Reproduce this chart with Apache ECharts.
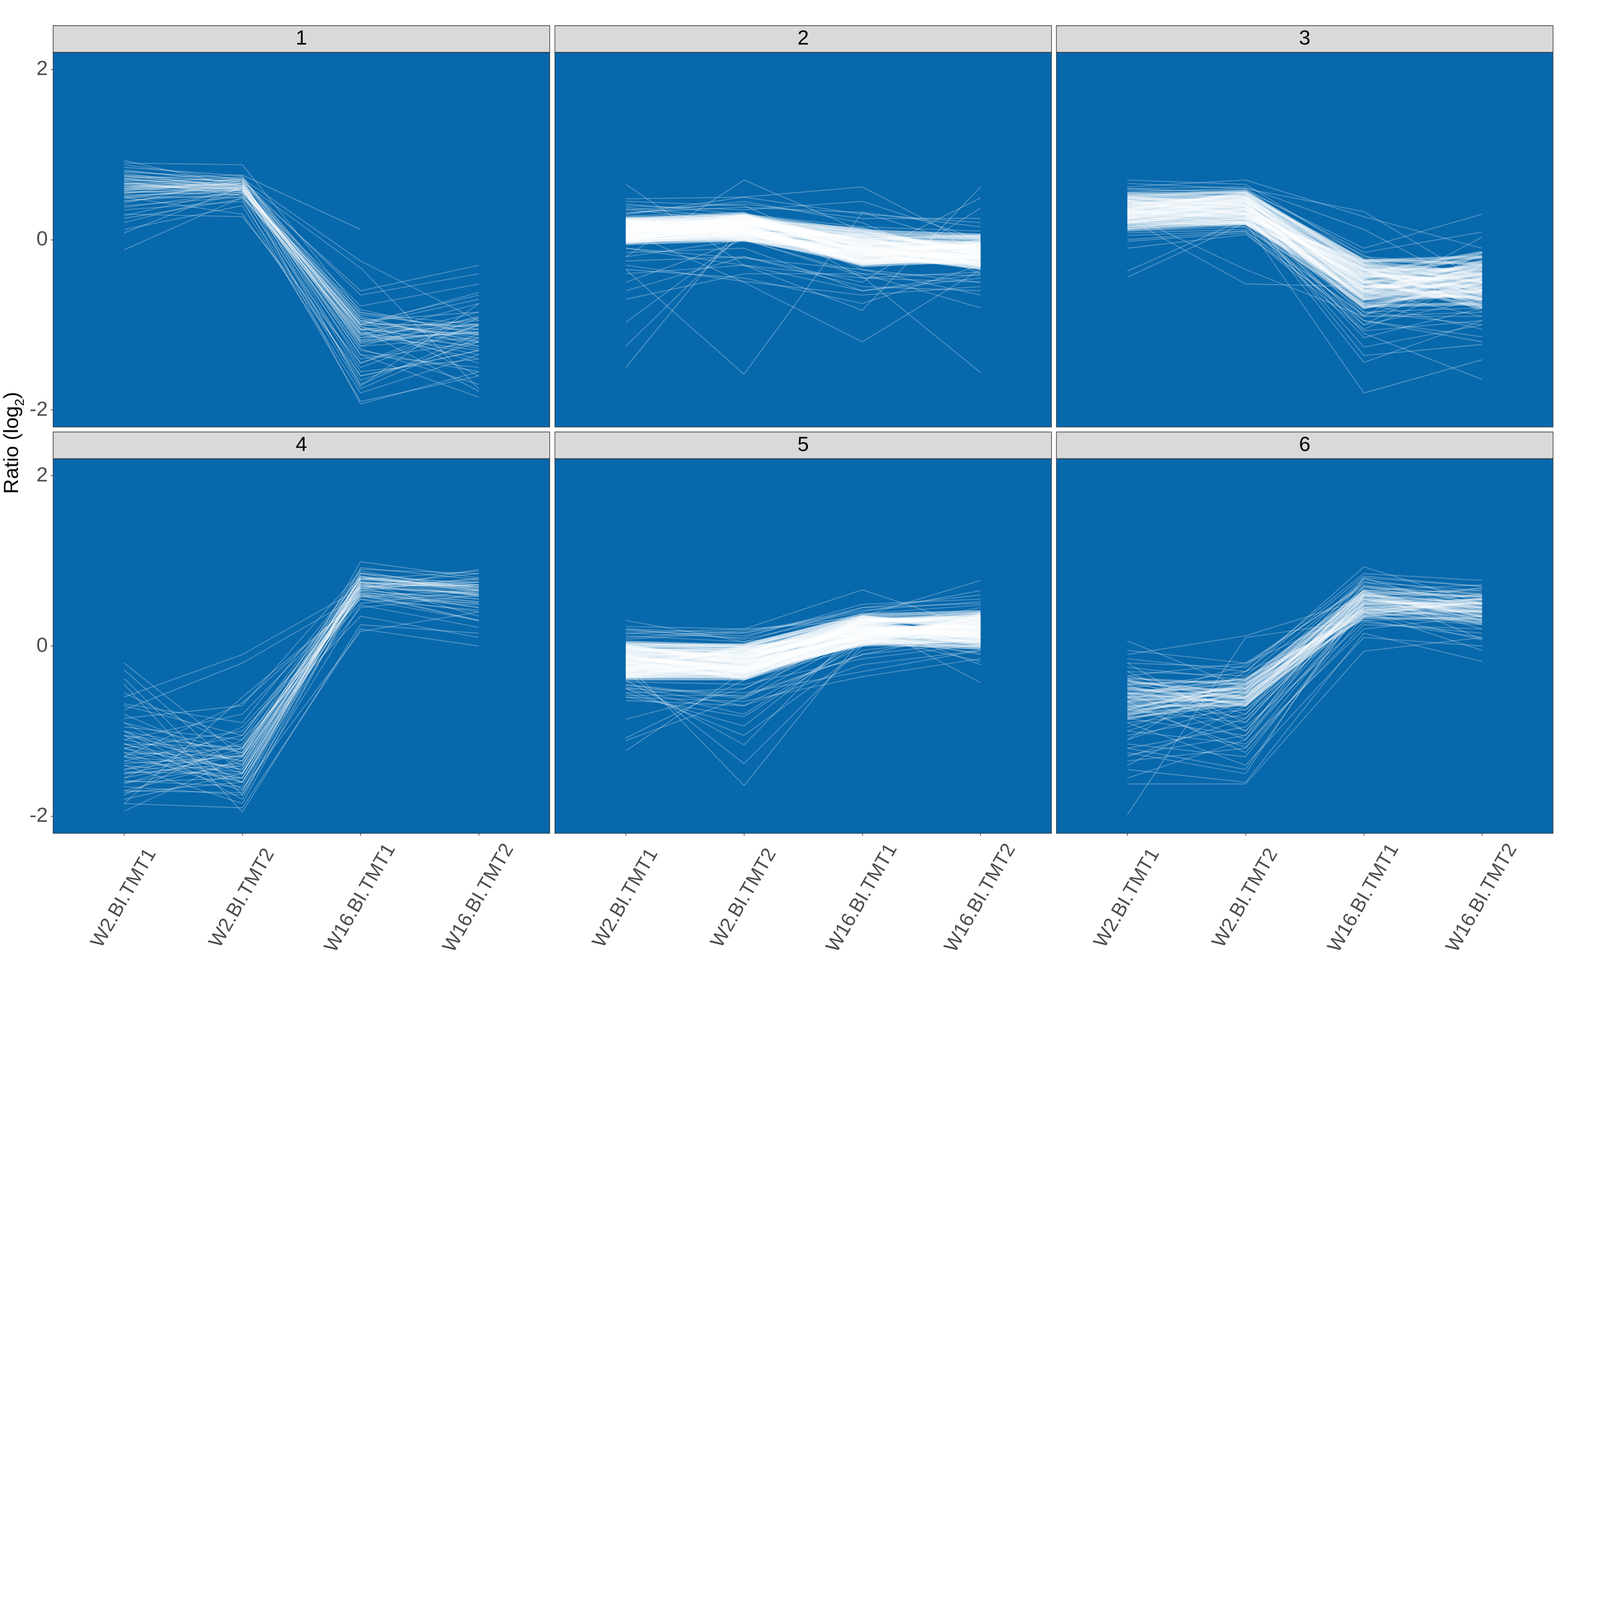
<!DOCTYPE html>
<html>
<head>
<meta charset="utf-8">
<script src="https://cdn.jsdelivr.net/npm/echarts@6/dist/echarts.min.js"></script>
<style>html,body{margin:0;padding:0;background:#fff;overflow:hidden;}</style>
</head>
<body>
<div id="chart"></div>
<script>
// ---------- DATA ----------
const categories = ['W2.BI.TMT1', 'W2.BI.TMT2', 'W16.BI.TMT1', 'W16.BI.TMT2'];
const categoryPositions = [1, 2, 3, 4];
const panelLabels = ['1', '2', '3', '4', '5', '6'];
const yTicks = [-2, 0, 2];

// cluster 1 profiles (log2 ratio at each of the 4 samples)
const cluster1 = [
[0.93,0.62,-1.05,-1.2],[0.88,0.7,-0.95,-0.85],[0.85,0.75,-1.1,-1.4],[0.82,0.66,-1.2,-0.98],
[0.8,0.72,-0.88,-1.05],[0.78,0.6,-1.3,-1.55],[0.76,0.68,-1.0,-0.62],[0.74,0.64,-1.15,-1.1],
[0.72,0.58,-0.9,-1.25],[0.7,0.7,-1.45,-1.0],[0.68,0.62,-1.08,-1.35],[0.66,0.55,-0.82,-1.12],
[0.65,0.74,-1.25,-0.9],[0.64,0.6,-1.0,-1.0],[0.62,0.66,-1.6,-1.3],[0.6,0.57,-1.12,-0.75],
[0.6,0.63,-0.95,-1.18],[0.58,0.68,-1.35,-1.5],[0.57,0.52,-1.05,-0.95],[0.55,0.6,-1.2,-1.08],
[0.54,0.72,-0.92,-1.6],[0.52,0.58,-1.4,-1.2],[0.5,0.62,-1.7,-1.1],[0.5,0.5,-1.02,-1.45],
[0.48,0.66,-1.18,-0.85],[0.46,0.54,-0.86,-1.0],[0.45,0.6,-1.28,-1.7],[0.43,0.7,-1.55,-1.4],
[0.4,0.5,-1.1,-1.25],[0.38,0.56,-1.0,-0.7],[0.35,0.45,-1.65,-1.2],[0.28,0.6,-1.22,-1.05],
[0.25,0.48,-1.9,-1.6],[0.2,0.55,-1.75,-1.15],[0.12,0.4,-1.8,-1.35],[0.08,0.62,-1.35,-1.85],
[-0.12,0.5,-1.5,-1.0],[0.72,0.76,0.12,null],[0.62,0.72,-0.25,-0.95],[0.75,0.68,-0.33,-1.75],
[0.58,0.66,-0.6,-0.3],[0.8,0.7,-0.65,-0.4],[0.55,0.62,-0.78,-0.52],[0.5,0.3,-1.6,-1.3],
[0.3,0.27,-1.45,-0.92],[0.9,0.88,-0.85,-1.1],[0.66,0.64,-1.93,-1.55],[0.6,0.7,-1.72,-0.75],
[0.72,0.6,-1.05,-1.78],[0.56,0.58,-0.98,-0.65],[0.68,0.52,-1.12,-1.3],[0.62,0.64,-1.05,-1.05],
[0.66,0.6,-1.1,-1.0],[0.58,0.62,-1.0,-1.12],[0.7,0.66,-1.18,-1.08],[0.64,0.58,-0.96,-1.15],
[0.62,0.6,-0.98,-1.02],[0.7,0.64,-1.06,-1.1],[0.52,0.56,-1.15,-0.92],[0.75,0.62,-0.92,-1.2],
[0.6,0.66,-1.25,-1.15],[0.66,0.58,-1.02,-1.28]
];

// cluster 2 profiles: dense core and sparser spread
const cluster2Core = [
[0.25,0.28,0.1,0.05],[0.24,0.22,0.02,-0.05],[0.23,0.3,-0.05,0.0],[0.22,0.18,0.08,-0.12],
[0.21,0.26,-0.1,-0.08],[0.2,0.2,0.0,0.04],[0.19,0.24,-0.15,-0.2],[0.18,0.15,0.05,-0.1],
[0.17,0.28,-0.08,-0.15],[0.16,0.12,-0.2,-0.05],[0.15,0.22,0.12,-0.18],[0.14,0.18,-0.12,-0.25],
[0.13,0.25,-0.02,-0.1],[0.12,0.1,-0.18,-0.02],[0.11,0.2,-0.06,-0.22],[0.1,0.16,-0.25,-0.12],
[0.09,0.08,0.04,-0.3],[0.08,0.22,-0.14,-0.08],[0.07,0.12,-0.22,-0.16],[0.06,0.05,-0.1,-0.28],
[0.05,0.18,-0.28,-0.2],[0.04,0.1,-0.04,-0.14],[0.03,0.02,-0.16,-0.33],[0.02,0.14,-0.3,-0.24],
[0.01,0.06,-0.12,-0.06],[0.0,0.0,-0.24,-0.18],[-0.01,0.12,-0.08,-0.3],[-0.02,0.04,-0.2,-0.1],
[-0.03,0.08,-0.26,-0.26],[-0.04,0.0,-0.14,-0.2],[0.2,0.14,-0.18,-0.14],[0.15,0.05,-0.1,-0.24],
[0.1,0.26,0.06,0.02],[0.05,0.24,-0.02,-0.12],[0.18,0.08,-0.22,-0.28],[0.12,0.02,-0.28,-0.2],
[0.0,0.2,-0.06,-0.04],[0.08,0.28,-0.16,-0.32],[0.22,0.1,-0.26,-0.16],[0.02,0.16,0.0,-0.22]
];
const cluster2Spread = [
[0.65,-0.3,-0.6,-0.4],[-1.5,0.2,0.0,-0.1],[-1.25,0.1,-0.3,-0.2],[-0.97,0.05,-0.1,-0.35],
[-0.35,-1.58,0.32,-0.1],[-0.2,0.7,0.1,-0.2],[0.3,0.5,0.62,-0.1],[0.1,-0.5,-1.2,-0.35],
[0.05,0.0,-0.43,-1.56],[-0.1,-0.3,-0.83,0.62],[0.45,0.4,-0.2,0.49],[0.4,0.35,0.45,0.0],
[-0.6,-0.2,-0.5,0.37],[-0.7,-0.4,-0.4,-0.8],[0.48,0.5,0.3,0.2],[-0.3,-0.49,-0.65,-0.55],
[0.35,0.42,0.25,0.25],[-0.25,-0.2,-0.55,-0.6],[0.42,0.3,0.15,0.1],[-0.4,-0.3,-0.45,-0.5],
[0.3,0.45,0.2,-0.4],[-0.15,-0.1,-0.6,-0.45],[0.38,0.25,-0.35,-0.65],[-0.5,0.0,-0.25,-0.15],
[-0.35,-0.45,-0.75,-0.3],[0.32,0.38,0.32,0.15],[-0.2,0.0,-0.4,-0.42],[0.28,0.32,-0.45,-0.38],
[-0.1,-0.22,-0.35,-0.5],[0.36,0.2,0.1,-0.3]
];

// cluster 3 profiles
const cluster3Core = [
[0.54,0.55,-0.25,-0.2],[0.52,0.5,-0.35,-0.45],[0.5,0.57,-0.3,-0.6],[0.48,0.46,-0.45,-0.3],
[0.47,0.52,-0.5,-0.7],[0.45,0.48,-0.28,-0.5],[0.44,0.42,-0.6,-0.4],[0.42,0.5,-0.4,-0.15],
[0.41,0.45,-0.55,-0.55],[0.4,0.38,-0.7,-0.65],[0.38,0.44,-0.35,-0.35],[0.37,0.4,-0.48,-0.8],
[0.36,0.48,-0.62,-0.25],[0.35,0.36,-0.42,-0.48],[0.34,0.42,-0.75,-0.6],[0.33,0.32,-0.3,-0.42],
[0.32,0.4,-0.52,-0.72],[0.31,0.35,-0.65,-0.32],[0.3,0.3,-0.38,-0.55],[0.29,0.38,-0.8,-0.5],
[0.28,0.28,-0.46,-0.62],[0.27,0.34,-0.58,-0.38],[0.26,0.25,-0.34,-0.78],[0.25,0.32,-0.7,-0.45],
[0.24,0.22,-0.5,-0.3],[0.22,0.3,-0.42,-0.58],[0.21,0.2,-0.62,-0.68],[0.2,0.26,-0.26,-0.4],
[0.18,0.19,-0.55,-0.52],[0.16,0.24,-0.78,-0.75],[0.14,0.21,-0.44,-0.2],[0.12,0.19,-0.66,-0.46],
[0.4,0.52,-0.24,-0.28],[0.35,0.55,-0.32,-0.65],[0.3,0.48,-0.56,-0.35],[0.45,0.3,-0.68,-0.58],
[0.25,0.45,-0.4,-0.5],[0.5,0.4,-0.5,-0.42],[0.2,0.36,-0.36,-0.7],[0.33,0.26,-0.6,-0.62]
];
const cluster3Spread = [
[0.7,0.65,-0.2,-0.3],[0.66,0.6,0.33,-0.5],[0.62,0.7,0.27,-0.1],[0.6,0.62,0.12,-0.6],
[0.58,0.58,-0.1,0.3],[0.56,0.6,-0.15,0.09],[0.1,0.15,-0.9,-0.9],[0.05,0.1,-1.0,-0.7],
[-0.02,0.08,-1.07,-0.95],[-0.1,0.06,-0.95,-1.14],[-0.44,0.2,-0.8,-0.6],[-0.37,0.25,-0.85,-0.8],
[0.3,-0.35,-0.9,-0.85],[0.25,-0.52,-0.55,-0.7],[0.4,0.3,-1.26,-1.0],[0.35,0.35,-1.36,-1.23],
[0.2,0.3,-1.44,-0.95],[0.45,0.2,-1.8,-1.41],[0.3,0.4,-1.1,-1.64],[0.15,0.25,-0.95,-1.2],
[0.5,0.45,-0.85,-1.0],[0.08,0.12,-0.7,0.03],[0.55,0.5,-0.18,-0.85],[0.0,0.1,-0.88,-0.55],
[0.46,0.36,-1.0,-0.3],[0.22,0.15,-0.75,-1.05],[0.6,0.55,-0.6,-0.9],[0.12,0.3,-1.15,-0.8],
[0.38,0.45,-0.9,-0.15],[0.28,0.2,-1.05,-0.45]
];

// cluster 4 profiles
const cluster4 = [
[-0.2,-1.3,0.8,0.7],[-0.28,-1.5,0.72,0.55],[-0.38,-1.75,0.65,0.8],[-0.55,-1.2,0.9,0.85],
[-0.6,-0.1,0.68,0.45],[-0.68,-0.9,0.82,0.6],[-0.75,-0.2,0.6,0.5],[-0.8,-1.4,0.75,0.7],
[-0.85,-0.7,0.88,0.65],[-0.9,-1.6,0.58,0.4],[-0.95,-1.1,0.78,0.88],[-1.0,-1.25,0.7,0.62],
[-1.05,-1.8,0.85,0.72],[-1.1,-0.8,0.62,0.3],[-1.1,-1.35,0.72,0.75],[-1.15,-1.55,0.8,0.58],
[-1.2,-1.0,0.5,0.65],[-1.2,-1.45,0.67,0.9],[-1.25,-1.7,0.92,0.78],[-1.28,-1.2,0.6,0.5],
[-1.3,-1.6,0.75,0.35],[-1.35,-1.05,0.82,0.66],[-1.38,-1.3,0.45,0.6],[-1.4,-1.85,0.7,0.72],
[-1.45,-1.15,0.65,0.55],[-1.48,-1.5,0.99,0.8],[-1.5,-1.25,0.78,0.7],[-1.55,-0.95,0.55,0.42],
[-1.58,-1.65,0.85,0.62],[-1.6,-1.4,0.72,0.85],[-1.62,-1.2,0.6,0.3],[-1.65,-1.75,0.48,0.22],
[-1.7,-1.35,0.8,0.68],[-1.72,-1.6,0.68,0.75],[-1.75,-1.1,0.35,0.1],[-1.8,-1.5,0.75,0.6],
[-1.85,-1.9,0.2,0.0],[-1.94,-1.3,0.62,0.52],[-1.85,-0.6,0.55,0.3],[-0.45,-1.95,0.25,0.15],
[-1.0,-1.68,0.17,0.4],[-1.3,-0.67,0.58,0.48],[-1.15,-1.45,0.7,0.72],[-1.4,-1.55,0.76,0.65],
[-1.25,-1.3,0.8,0.66],[-1.05,-1.22,0.74,0.68],[-1.45,-1.28,0.7,0.6],[-1.05,-1.35,0.68,0.62],
[-1.2,-1.6,0.78,0.72],[-1.35,-1.48,0.62,0.58],[-1.5,-1.38,0.74,0.7],[-0.9,-1.25,0.8,0.75],
[-1.6,-1.55,0.66,0.52],[-1.15,-1.18,0.58,0.66],[-0.7,-1.05,0.72,0.6],[-1.7,-1.72,0.82,0.64],
[-1.3,-1.42,0.7,0.78],[-1.0,-1.5,0.64,0.45],[-1.55,-1.28,0.86,0.68]
];

// cluster 5 profiles
const cluster5Core = [
[0.04,0.0,0.36,0.4],[0.02,-0.02,0.3,0.32],[0.0,0.01,0.34,0.22],[-0.02,-0.05,0.25,0.36],
[-0.04,-0.08,0.32,0.28],[-0.06,-0.04,0.2,0.15],[-0.08,-0.1,0.28,0.38],[-0.1,-0.12,0.22,0.2],
[-0.12,-0.08,0.14,0.3],[-0.14,-0.16,0.3,0.1],[-0.16,-0.14,0.18,0.25],[-0.18,-0.2,0.1,0.18],
[-0.2,-0.18,0.24,0.05],[-0.22,-0.24,0.12,0.34],[-0.24,-0.22,0.06,0.12],[-0.26,-0.28,0.2,0.22],
[-0.28,-0.26,0.08,0.0],[-0.3,-0.32,0.16,0.26],[-0.32,-0.3,0.02,0.08],[-0.34,-0.36,0.1,0.16],
[-0.36,-0.34,0.04,-0.02],[-0.38,-0.38,0.14,0.2],[-0.1,-0.3,0.26,0.14],[-0.2,-0.06,0.08,0.3],
[-0.3,-0.15,0.22,0.1],[0.0,-0.2,0.12,0.24],[-0.25,-0.35,0.3,0.32],[-0.15,-0.25,0.04,0.06],
[-0.05,-0.12,0.18,0.12],[-0.35,-0.2,0.28,0.28],[-0.12,-0.32,0.16,0.04],[-0.28,-0.1,0.34,0.18],
[-0.22,-0.28,0.02,0.36],[-0.08,-0.18,0.1,0.22],[-0.18,-0.38,0.06,0.14],[-0.32,-0.24,0.26,0.08],
[-0.02,-0.14,0.22,0.02],[-0.26,-0.02,0.14,0.26],[-0.14,-0.26,0.32,0.34],[-0.36,-0.3,0.18,0.16]
];
const cluster5Spread = [
[0.3,0.05,0.45,0.5],[0.23,0.2,0.66,0.2],[0.2,0.15,0.4,0.65],[0.15,0.1,0.49,0.55],
[0.1,0.18,0.35,0.77],[-0.86,-0.5,0.1,0.1],[-1.08,-0.4,0.0,0.2],[-1.11,-0.6,-0.1,0.05],
[-1.23,-0.3,0.2,0.15],[-0.2,-1.64,0.1,0.3],[-0.3,-1.38,0.0,0.0],[-0.4,-1.16,0.25,0.2],
[-0.5,-1.05,-0.05,0.1],[-0.55,-0.94,0.15,-0.1],[-0.6,-0.83,0.05,0.25],[-0.64,-0.7,-0.22,-0.05],
[-0.6,-0.65,-0.36,-0.15],[-0.5,-0.55,-0.3,-0.05],[-0.45,-0.6,0.3,-0.43],[-0.55,-0.5,0.2,0.12],
[0.15,0.2,0.3,-0.22],[0.18,0.12,0.45,0.6],[-0.48,-0.7,0.0,0.3],[0.12,0.05,0.2,0.45],
[-0.42,-0.45,-0.15,0.02],[-0.5,-0.8,0.08,-0.08],[0.08,0.16,0.42,0.52],[-0.58,-0.58,-0.1,0.18],
[-0.46,-0.62,0.12,-0.18],[0.2,0.08,0.38,0.48]
];

// cluster 6 profiles
const cluster6Core = [
[-0.38,-0.45,0.6,0.5],[-0.42,-0.55,0.5,0.4],[-0.45,-0.4,0.65,0.58],[-0.5,-0.62,0.42,0.35],
[-0.52,-0.5,0.55,0.45],[-0.55,-0.68,0.38,0.52],[-0.58,-0.42,0.62,0.3],[-0.6,-0.58,0.48,0.55],
[-0.62,-0.65,0.35,0.42],[-0.65,-0.48,0.58,0.38],[-0.68,-0.6,0.45,0.28],[-0.7,-0.7,0.52,0.48],
[-0.72,-0.52,0.4,0.56],[-0.75,-0.64,0.6,0.44],[-0.78,-0.56,0.33,0.32],[-0.8,-0.66,0.5,0.5],
[-0.82,-0.46,0.44,0.4],[-0.86,-0.6,0.56,0.36],[-0.48,-0.7,0.46,0.46],[-0.56,-0.38,0.36,0.54],
[-0.66,-0.54,0.64,0.34],[-0.74,-0.44,0.42,0.5],[-0.4,-0.62,0.54,0.42],[-0.84,-0.68,0.62,0.58],
[-0.6,-0.5,0.4,0.27]
];
const cluster6Spread = [
[0.06,-0.5,0.8,0.7],[-0.05,-0.2,0.7,0.6],[-0.1,0.12,0.55,0.4],[-0.15,-0.3,0.93,0.5],
[-0.2,-0.25,0.85,0.77],[-0.25,-0.4,0.65,0.72],[-0.3,-0.35,0.75,0.65],[-0.3,-0.9,0.6,0.2],
[-0.35,-0.6,0.78,0.6],[-0.4,-0.8,0.7,0.45],[-0.45,-1.0,0.5,0.3],[-0.5,-0.3,0.3,0.1],
[-0.55,-1.1,0.68,0.62],[-0.6,-0.85,0.45,0.55],[-0.65,-0.22,0.72,0.5],[-0.7,-1.19,0.25,0.2],
[-0.75,-0.9,0.58,0.68],[-0.8,-0.4,0.4,0.07],[-0.85,-1.05,0.8,0.4],[-0.9,-0.75,0.35,0.45],
[-0.95,-0.5,0.62,0.65],[-1.0,-1.15,0.2,0.35],[-1.05,-0.8,0.55,0.25],[-1.1,-0.65,0.7,0.55],
[-1.15,-1.3,0.45,0.5],[-1.2,-0.95,0.28,0.15],[-1.25,-1.5,0.6,0.4],[-1.28,-1.05,0.4,-0.05],
[-1.35,-1.2,0.5,0.6],[-1.4,-0.7,0.66,0.45],[-1.45,-1.6,0.15,-0.18],[-1.55,-1.1,0.48,0.3],
[-1.62,-1.62,-0.06,0.1],[-1.98,0.1,0.3,0.35],[-0.2,-1.0,0.6,0.5],[-0.9,-1.4,0.1,0.0],
[-1.1,-0.3,0.82,0.7],[-0.55,-0.75,0.52,0.68],[-0.75,-0.45,0.38,0.48],[-1.3,-0.85,0.58,0.35],
[-0.35,-0.2,0.42,0.62],[-1.0,-0.55,0.75,0.5],[-0.65,-1.25,0.35,0.25],[-0.45,-0.6,0.65,0.08],
[-1.2,-1.45,0.52,0.55]
];

// ---------- LAYOUT / STYLE (designed for 7800x4800, scaled to fit the window) ----------
const DESIGN_W = 7800, DESIGN_H = 4800;
const vw = window.innerWidth || DESIGN_W, vh = window.innerHeight || DESIGN_H;
const s = Math.min(vw / DESIGN_W, vh / DESIGN_H);
const S = v => v * s;

const colLeft = [259, 2705, 5150];
const panelW = 2421;
const rowTop = [255, 2235];
const panelH = 1826;
const stripH = 130;
const FONT = '"Liberation Sans", Arial, Helvetica, sans-serif';

const panels = [
  {spread: cluster1, core: [], coreW: 0, coreA: 0},
  {spread: cluster2Spread, core: cluster2Core, coreW: 18, coreA: 0.5},
  {spread: cluster3Spread, core: cluster3Core, coreW: 15, coreA: 0.45},
  {spread: cluster4, core: [], coreW: 0, coreA: 0},
  {spread: cluster5Spread, core: cluster5Core, coreW: 18, coreA: 0.5},
  {spread: cluster6Spread, core: cluster6Core, coreW: 10, coreA: 0.35}
];

const grids = [], xAxes = [], yAxes = [], series = [], graphics = [];

panels.forEach((p, i) => {
  const row = Math.floor(i / 3), col = i % 3;
  grids.push({
    left: S(colLeft[col]), top: S(rowTop[row]), width: S(panelW), height: S(panelH),
    show: true, backgroundColor: '#0868AC', borderColor: '#333333', borderWidth: S(3),
    containLabel: false
  });
  xAxes.push({
    type: 'value', gridIndex: i, min: 0.4, max: 4.6, position: 'bottom',
    splitLine: {show: false}, axisLine: {show: false, onZero: false},
    axisTick: {show: row === 1, customValues: categoryPositions, length: S(12),
               lineStyle: {color: '#333333', width: S(3)}},
    axisLabel: {show: row === 1, customValues: categoryPositions,
                formatter: v => categories[Math.round(v) - 1] || '',
                rotate: 60, align: 'center', verticalAlign: 'middle', margin: S(316),
                fontSize: S(96), color: '#4D4D4D', fontFamily: FONT}
  });
  yAxes.push({
    type: 'value', gridIndex: i, min: -2.2, max: 2.2, position: 'left',
    splitLine: {show: false}, axisLine: {show: false, onZero: false},
    axisTick: {show: col === 0, customValues: yTicks, length: S(12),
               lineStyle: {color: '#333333', width: S(3)}},
    axisLabel: {show: col === 0, customValues: yTicks, margin: S(26),
                fontSize: S(100), color: '#4D4D4D', fontFamily: FONT}
  });
  const addLine = (vals, width, opacity) => {
    series.push({
      type: 'line', xAxisIndex: i, yAxisIndex: i,
      data: vals.map((v, j) => [categoryPositions[j], v === null ? '-' : v]),
      symbol: 'none', showSymbol: false, silent: true, animation: false,
      connectNulls: false,
      lineStyle: {color: '#FFFFFF', width: S(width), opacity: opacity}
    });
  };
  p.core.forEach(v => addLine(v, p.coreW, p.coreA));
  p.spread.forEach(v => addLine(v, 4, 0.32));

  // facet strip
  graphics.push({
    type: 'rect', silent: true,
    shape: {x: S(colLeft[col]), y: S(rowTop[row] - stripH), width: S(panelW), height: S(stripH)},
    style: {fill: '#D9D9D9', stroke: '#333333', lineWidth: S(3)}
  });
  graphics.push({
    type: 'text', silent: true,
    x: S(colLeft[col] + panelW / 2), y: S(rowTop[row] - stripH / 2),
    style: {text: panelLabels[i], fill: '#000000', fontSize: S(100), fontFamily: FONT,
            align: 'center', verticalAlign: 'middle'}
  });
});

// y-axis title
graphics.push({
  type: 'text', silent: true,
  x: S(60), y: S((rowTop[0] + rowTop[1] + panelH) / 2), rotation: Math.PI / 2,
  style: {
    text: '{a|Ratio (log}{s|2}{a|)}',
    align: 'center', verticalAlign: 'middle',
    rich: {
      a: {fontSize: S(100), lineHeight: S(140), verticalAlign: 'middle', fill: '#000000', fontFamily: FONT},
      s: {fontSize: S(64), lineHeight: S(64), verticalAlign: 'bottom', fill: '#000000', fontFamily: FONT}
    }
  }
});

const el = document.getElementById('chart');
el.style.width = S(DESIGN_W) + 'px';
el.style.height = S(DESIGN_H) + 'px';
const chart = echarts.init(el, null, {renderer: 'canvas', width: S(DESIGN_W), height: S(DESIGN_H)});
chart.setOption({
  backgroundColor: '#FFFFFF',
  animation: false,
  grid: grids, xAxis: xAxes, yAxis: yAxes, series: series,
  graphic: graphics
});
</script>
</body>
</html>
